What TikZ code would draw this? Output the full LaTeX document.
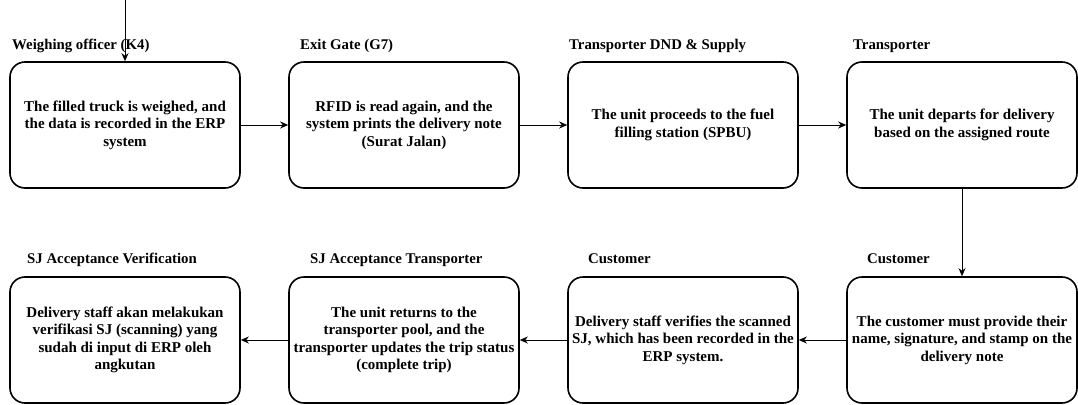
\documentclass[tikz,border=0pt]{standalone}
\usepackage{fontspec}
\setmainfont{Liberation Serif}
\usetikzlibrary{arrows.meta}
\begin{document}
\begin{tikzpicture}[x=1pt,y=-1pt,
  procbox/.style={draw, line width=1.6pt, rounded corners=15pt, minimum width=230pt, minimum height=126pt,
    align=center, inner sep=0pt, font=\fontsize{15}{17.5}\selectfont\bfseries},
  lbl/.style={anchor=base west, inner sep=0pt, font=\fontsize{14.8}{15}\selectfont\bfseries},
  conn/.style={line width=1pt, -{Stealth[length=8pt,width=7pt,inset=2.5pt]}}]
\useasboundingbox (0,0) rectangle (1078,404);

\node[procbox] (b1) at (125,125) {The filled truck is weighed, and\\the data is recorded in the ERP\\system};
\node[procbox] (b2) at (404,125) {RFID is read again, and the\\system prints the delivery note\\(Surat Jalan)};
\node[procbox] (b3) at (683,125) {The unit proceeds to the fuel\\filling station (SPBU)};
\node[procbox] (b4) at (962,125) {The unit departs for delivery\\based on the assigned route};

\node[procbox] (b8) at (962,340) {The customer must provide their\\name, signature, and stamp on the\\delivery note};
\node[procbox] (b7) at (683,340) {Delivery staff verifies the scanned\\SJ, which has been recorded in the\\ERP system.};
\node[procbox] (b6) at (404,340) {The unit returns to the\\transporter pool, and the\\transporter updates the trip status\\(complete trip)};
\node[procbox] (b5) at (125,340) {Delivery staff akan melakukan\\verifikasi SJ (scanning) yang\\sudah di input di ERP oleh\\angkutan};

\node[lbl] (l1) at (12,49) {Weighing officer (K4)};
\node[lbl] (l2) at (300,49) {Exit Gate (G7)};
\node[lbl] (l3) at (569,49) {Transporter DND \& Supply};
\node[lbl] (l4) at (853,49) {Transporter};
\node[lbl] (l5) at (27,263) {SJ Acceptance Verification};
\node[lbl] (l6) at (310,263) {SJ Acceptance Transporter};
\node[lbl] (l7) at (588,263) {Customer};
\node[lbl] (l8) at (867,263) {Customer};

\coordinate (start) at (125,0);
\draw[conn] (start) -- (b1.north);
\draw[conn] (b1) -- (b2);
\draw[conn] (b2) -- (b3);
\draw[conn] (b3) -- (b4);
\draw[conn] (b4) -- (b8);
\draw[conn] (b8) -- (b7);
\draw[conn] (b7) -- (b6);
\draw[conn] (b6) -- (b5);
\end{tikzpicture}
\end{document}
